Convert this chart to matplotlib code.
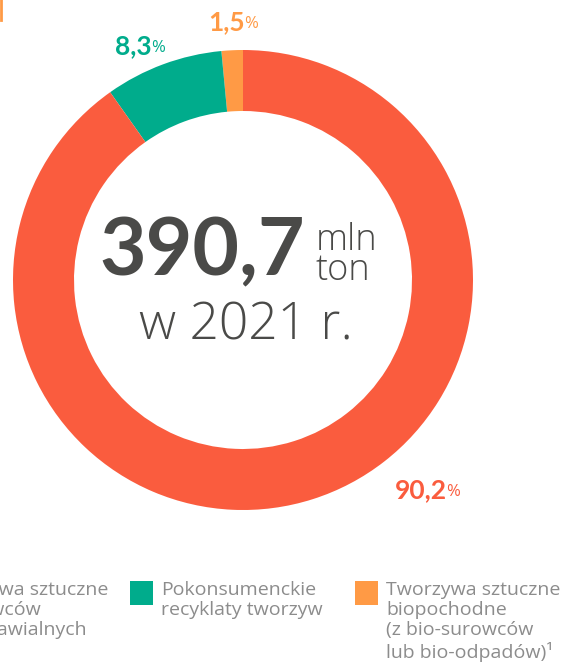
import matplotlib.pyplot as plt
from matplotlib.patches import Rectangle

# data
shares = [1.5, 8.3, 90.2]
share_labels = ['1,5', '8,3', '90,2']
colors = ['#FF9A45', '#00AC8C', '#FA5C3E']
legend_labels = ['Tworzywa sztuczne\nz surowców\nnieodnawialnych',
                 'Pokonsumenckie\nrecyklaty tworzyw',
                 'Tworzywa sztuczne\nbiopochodne\n(z bio-surowców\nlub bio-odpadów)¹']
total = '390,7'
unit = 'mln\nton'
year_text = 'w 2021 r.'

W, H = 563, 664
fig = plt.figure(figsize=(W / 100, H / 100), dpi=100)
ax = fig.add_axes([0, 0, 1, 1])

cx, cy, r = 243, H - 280, 230
ax.pie(shares, colors=colors, startangle=90, counterclock=True,
       center=(cx, cy), radius=r,
       wedgeprops=dict(width=61, linewidth=0))
ax.set_xlim(0, W)
ax.set_ylim(0, H)
ax.set_aspect('equal')
ax.axis('off')

font = 'Open Sans'
dark = '#4A4A48'
grey = '#8C8C8C'

# center text
ax.text(305, H - 252, total, fontsize=58, fontweight='bold', color=dark,
        family='Lato', ha='right', va='center')
ax.text(316, H - 255, unit, fontsize=26, fontweight='light', color=dark,
        family=font, ha='left', va='center', linespacing=0.75)
ax.text(246, H - 326, year_text, fontsize=37, fontweight='light', color=dark,
        family=font, ha='center', va='center')

# percentage labels
label_pos = [(245, H - 22), (152, H - 46), (447, H - 490)]
for (x, y), lab, c in zip(label_pos, share_labels, colors):
    ax.text(x, y, lab, fontsize=19, fontweight='bold', color=c,
            family='Lato', ha='right', va='center')
    ax.text(x - 1, y - 2, '%', fontsize=12, color=c, family=font,
            ha='left', va='center')

# legend
ax.text(108, H - 581, legend_labels[0], fontsize=14, color=grey, family=font,
        ha='right', va='top', multialignment='left', linespacing=1.15)
for x, lab, c in [(130, legend_labels[1], colors[1]), (355, legend_labels[2], colors[0])]:
    ax.add_patch(Rectangle((x, H - 605), 23, 24, color=c, linewidth=0))
    ax.text(x + 31, H - 581, lab, fontsize=14, color=grey, family=font,
            ha='left', va='top', linespacing=1.15)

# small orange mark at top left
ax.plot([1, 1], [H, H - 20], color=colors[0], linewidth=2)

fig.savefig('out.png', dpi=100)
